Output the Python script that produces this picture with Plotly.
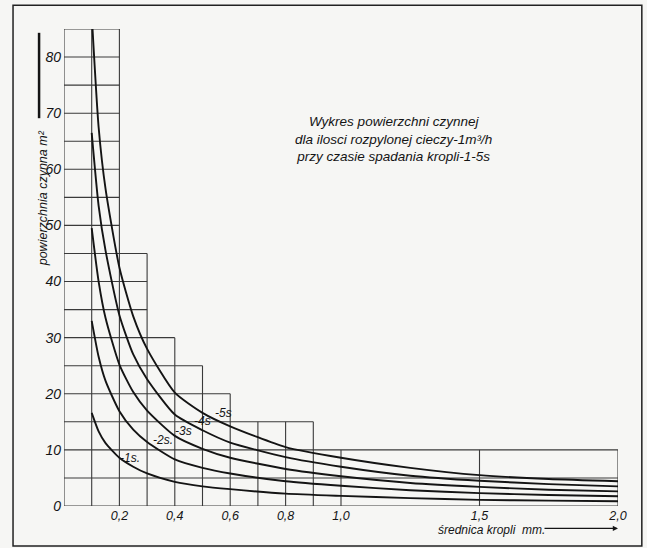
import plotly.graph_objects as go

# ---- data ----
D = [0.1, 0.125, 0.15, 0.2, 0.25, 0.3, 0.4, 0.5, 0.6, 0.8, 1.0, 1.25, 1.5, 1.75, 2.0]
D5 = [0.103, 0.125, 0.15, 0.2, 0.25, 0.3, 0.4, 0.5, 0.6, 0.8, 1.0, 1.25, 1.5, 1.75, 2.0]
s1 = [16.6, 13.3, 11.2, 8.6, 7.0, 5.8, 4.3, 3.5, 3.0, 2.2, 1.8, 1.4, 1.1, 0.95, 0.85]
s2 = [33.0, 26.6, 22.3, 16.9, 13.6, 11.4, 8.3, 6.8, 5.8, 4.4, 3.6, 2.8, 2.3, 1.95, 1.75]
s3 = [49.5, 40.0, 33.5, 25.2, 20.3, 17.0, 12.5, 10.2, 8.6, 6.6, 5.3, 4.1, 3.4, 2.9, 2.6]
s4 = [66.5, 53.5, 45.5, 34.0, 27.0, 22.6, 16.3, 13.5, 11.3, 8.7, 7.0, 5.4, 4.5, 3.9, 3.5]
s5 = [85.0, 67.5, 56.5, 42.5, 33.8, 28.0, 20.2, 16.6, 14.2, 10.5, 8.6, 6.8, 5.5, 4.8, 4.4]

curve_labels = ["1s.", "2s.", "3s", "4s", "5s"]
label_d = [0.238, 0.357, 0.43, 0.50, 0.574]
label_v = [8.6, 11.8, 13.4, 15.1, 16.5]

# staircase grid: column edges and column heights
edges = [0, 0.1, 0.2, 0.3, 0.4, 0.5, 0.6, 0.7, 0.8, 0.9, 1.0, 1.5, 2.0]
col_h = [85, 85, 45, 30, 25, 20, 15, 15, 15, 10, 10, 10]

x_tickvals = [0.2, 0.4, 0.6, 0.8, 1.0, 1.5, 2.0]
x_ticktext = ["0,2", "0,4", "0,6", "0,8", "1,0", "1,5", "2,0"]
y_tickvals = [0, 10, 20, 30, 40, 50, 60, 70, 80]

title_lines = ["Wykres powierzchni czynnej",
               "dla ilosci rozpylonej cieczy-1m³/h",
               "przy czasie spadania kropli-1-5s"]

FONT = "Liberation Sans, DejaVu Sans, sans-serif"
INK = "#141414"
GRID = "#3a3a3a"
BG = "#f6f6f4"

fig = go.Figure()

# grid lines (vertical)
gx, gy = [], []
for i, e in enumerate(edges):
    hl = col_h[i - 1] if i > 0 else 0
    hr = col_h[i] if i < len(col_h) else 0
    gx += [e, e, None]
    gy += [0, max(hl, hr), None]
# grid lines (horizontal)
for lev in range(0, 86, 5):
    right = 0
    for i, h in enumerate(col_h):
        if h >= lev:
            right = edges[i + 1]
    gx += [0, right, None]
    gy += [lev, lev, None]
fig.add_trace(go.Scatter(x=gx, y=gy, mode="lines",
                         line=dict(color=GRID, width=1.1),
                         hoverinfo="skip", showlegend=False))

# curves
for xs, ys in [(D, s1), (D, s2), (D, s3), (D, s4), (D5, s5)]:
    fig.add_trace(go.Scatter(x=xs, y=ys, mode="lines",
                             line=dict(color=INK, width=1.9, shape="spline", smoothing=0.6),
                             hoverinfo="skip", showlegend=False))

# curve labels
for t, d, v in zip(curve_labels, label_d, label_v):
    fig.add_annotation(x=d, y=v, text="-" + t, showarrow=False,
                       font=dict(family=FONT, size=12, color=INK, style="italic"),
                       xanchor="center", yanchor="middle")

# title text
fig.add_annotation(x=0.594, y=0.769, xref="paper", yref="paper",
                   text="<br>".join(title_lines), showarrow=False,
                   align="center", xanchor="center", yanchor="middle",
                   font=dict(family=FONT, size=13.5, color=INK, style="italic"))

# axis titles
fig.add_annotation(x=-0.038, y=0.645, xref="paper", yref="paper",
                   text="powierzchnia czynna m²", textangle=-90, showarrow=False,
                   xanchor="center", yanchor="middle",
                   font=dict(family=FONT, size=12.5, color=INK, style="italic"))
fig.add_annotation(x=0.771, y=-0.050, xref="paper", yref="paper",
                   text="średnica kropli  mm.", showarrow=False,
                   xanchor="center", yanchor="middle",
                   font=dict(family=FONT, size=12, color=INK, style="italic"))
# x arrow
fig.add_annotation(x=1.0, y=-0.047, xref="paper", yref="paper",
                   ax=-75, ay=0, text="", showarrow=True,
                   arrowhead=2, arrowsize=0.8, arrowwidth=1.3, arrowcolor=INK)
# y arrow line
fig.add_shape(type="line", xref="paper", yref="paper",
              x0=-0.045, x1=-0.045, y0=0.813, y1=0.992,
              line=dict(color=INK, width=2.5))
# frame
fig.add_shape(type="rect", xref="paper", yref="paper",
              x0=-0.092, x1=1.043, y0=-0.084, y1=1.050,
              line=dict(color="#222", width=1.5))

fig.update_layout(
    width=647, height=548,
    margin=dict(l=64, r=29, t=29, b=42),
    paper_bgcolor=BG, plot_bgcolor=BG,
    showlegend=False,
    xaxis=dict(range=[0, 2.0], showgrid=False, zeroline=False, showline=False,
               tickvals=x_tickvals, ticktext=x_ticktext, ticks="", ticklabelstandoff=0,
               tickfont=dict(family=FONT, size=12.5, color=INK, style="italic")),
    yaxis=dict(range=[0, 85], showgrid=False, zeroline=False, showline=False,
               tickvals=y_tickvals, ticks="", ticklabelstandoff=2,
               tickfont=dict(family=FONT, size=14, color=INK, style="italic")),
)

fig.write_html("out.html", config={"displayModeBar": False},
               post_script="document.body.style.margin='0';document.body.style.background='%s';" % BG)
